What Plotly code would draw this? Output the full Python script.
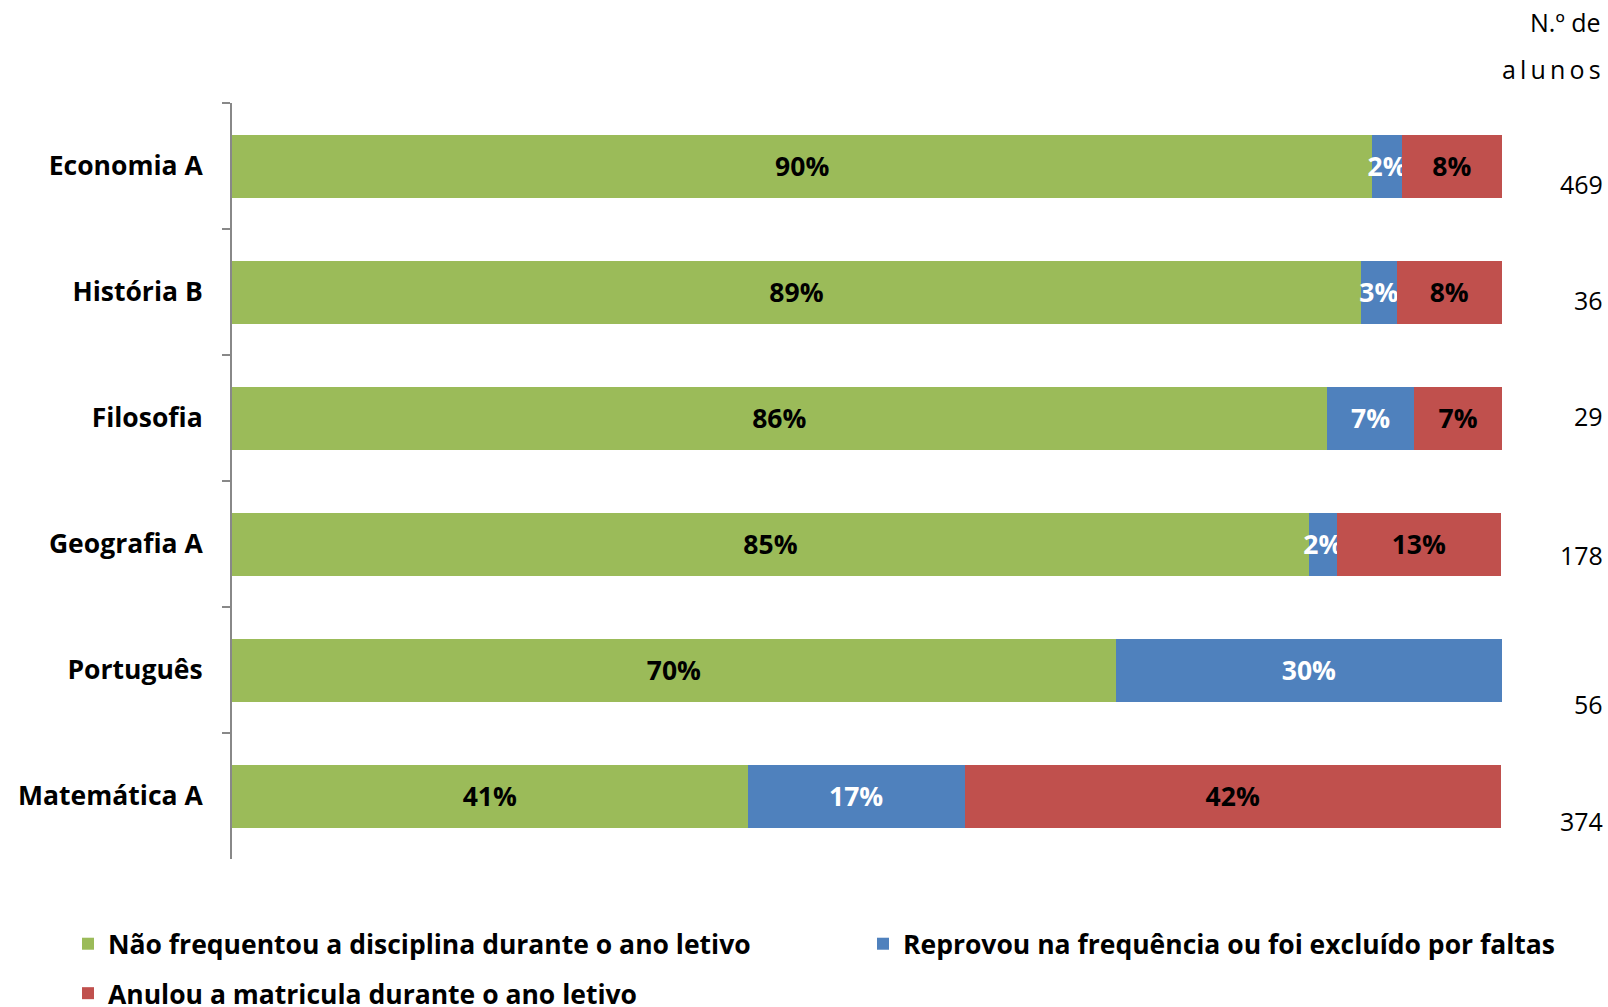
import plotly.graph_objects as go

categories = ["Economia A", "História B", "Filosofia", "Geografia A", "Português", "Matemática A"]
nao_frequentou = [89.8, 88.9, 86.2, 84.8, 69.6, 40.6]
reprovou = [2.3, 2.8, 6.9, 2.2, 30.4, 17.1]
anulou = [7.9, 8.3, 6.9, 12.9, 0.0, 42.2]
n_alunos = ["469", "36", "29", "178", "56", "374"]
count_yshift = [-18, -8, 2, -11, -34, -25]

series = [
    ("Não frequentou a disciplina durante o ano letivo", nao_frequentou, "#9BBB59", "black", "legend", "g1"),
    ("Reprovou na frequência ou foi excluído por faltas", reprovou, "#4F81BD", "white", "legend2", "g2"),
    ("Anulou a matricula durante o ano letivo", anulou, "#C0504D", "black", "legend", "g3"),
]

W, H = 1608, 1007
ML, MR, MT, MB = 232, 106, 103, 148
PW, PH = W - ML - MR, H - MT - MB


def px_x(px):
    return (px - ML) / PW


def px_y(py):
    return (H - MB - py) / PH


FONT = "Open Sans"
BOLD_SIZE = 26.5
fig = go.Figure()
for name, vals, color, tcolor, leg, grp in series:
    fig.add_trace(go.Bar(
        y=categories, x=vals, name=name, orientation="h",
        marker=dict(color=color, line=dict(width=0)),
        text=[f"{round(v)}%" if v > 0 else "" for v in vals],
        textposition="inside", insidetextanchor="middle", textangle=0,
        constraintext="none",
        textfont=dict(family=FONT, size=BOLD_SIZE, color=tcolor, weight="bold"),
        legend=leg, legendgroup=grp, hoverinfo="skip",
    ))

for cat, n, ys in zip(categories, n_alunos, count_yshift):
    fig.add_annotation(x=px_x(1605), xref="paper", y=cat, yref="y", yshift=ys,
                       text=n, showarrow=False, xanchor="right", yanchor="middle",
                       font=dict(family=FONT, size=25, color="black"))

fig.add_annotation(x=px_x(1603), xref="paper", y=px_y(22), yref="paper",
                   text="N.º de", showarrow=False, xanchor="right", yanchor="middle",
                   font=dict(family=FONT, size=25, color="black"))
fig.add_annotation(x=px_x(1603), xref="paper", y=px_y(69), yref="paper",
                   text="a\u2009l\u2009u\u2009n\u2009o\u2009s", showarrow=False, xanchor="right", yanchor="middle",
                   font=dict(family=FONT, size=25, color="black"))

legend_common = dict(font=dict(family=FONT, size=BOLD_SIZE, color="black", weight="bold"),
                     bgcolor="rgba(0,0,0,0)", xref="container", yref="container",
                     xanchor="left", yanchor="top", orientation="v")

fig.update_layout(
    width=W, height=H,
    margin=dict(l=ML, r=MR, t=MT, b=MB, autoexpand=False),
    plot_bgcolor="white", paper_bgcolor="white",
    barmode="stack", bargap=0.5,
    showlegend=True,
    legend=dict(**legend_common, x=68/W, y=1 - 920/H,
                traceorder="grouped", tracegroupgap=12),
    legend2=dict(**legend_common, x=863/W, y=1 - 920/H),
    xaxis=dict(range=[0, 100], visible=False, fixedrange=True),
    yaxis=dict(
        autorange="reversed", type="category",
        showline=True, linecolor="#888888", linewidth=2,
        ticks="outside", ticklen=8, tickcolor="#888888", tickwidth=2,
        tickson="boundaries", showgrid=False, zeroline=False,
        ticklabelstandoff=22, fixedrange=True,
        tickfont=dict(family=FONT, size=BOLD_SIZE, color="black", weight="bold"),
    ),
)

fig.write_html("out.html", config={"displayModeBar": False},
               post_script="document.body.style.margin='0';")
